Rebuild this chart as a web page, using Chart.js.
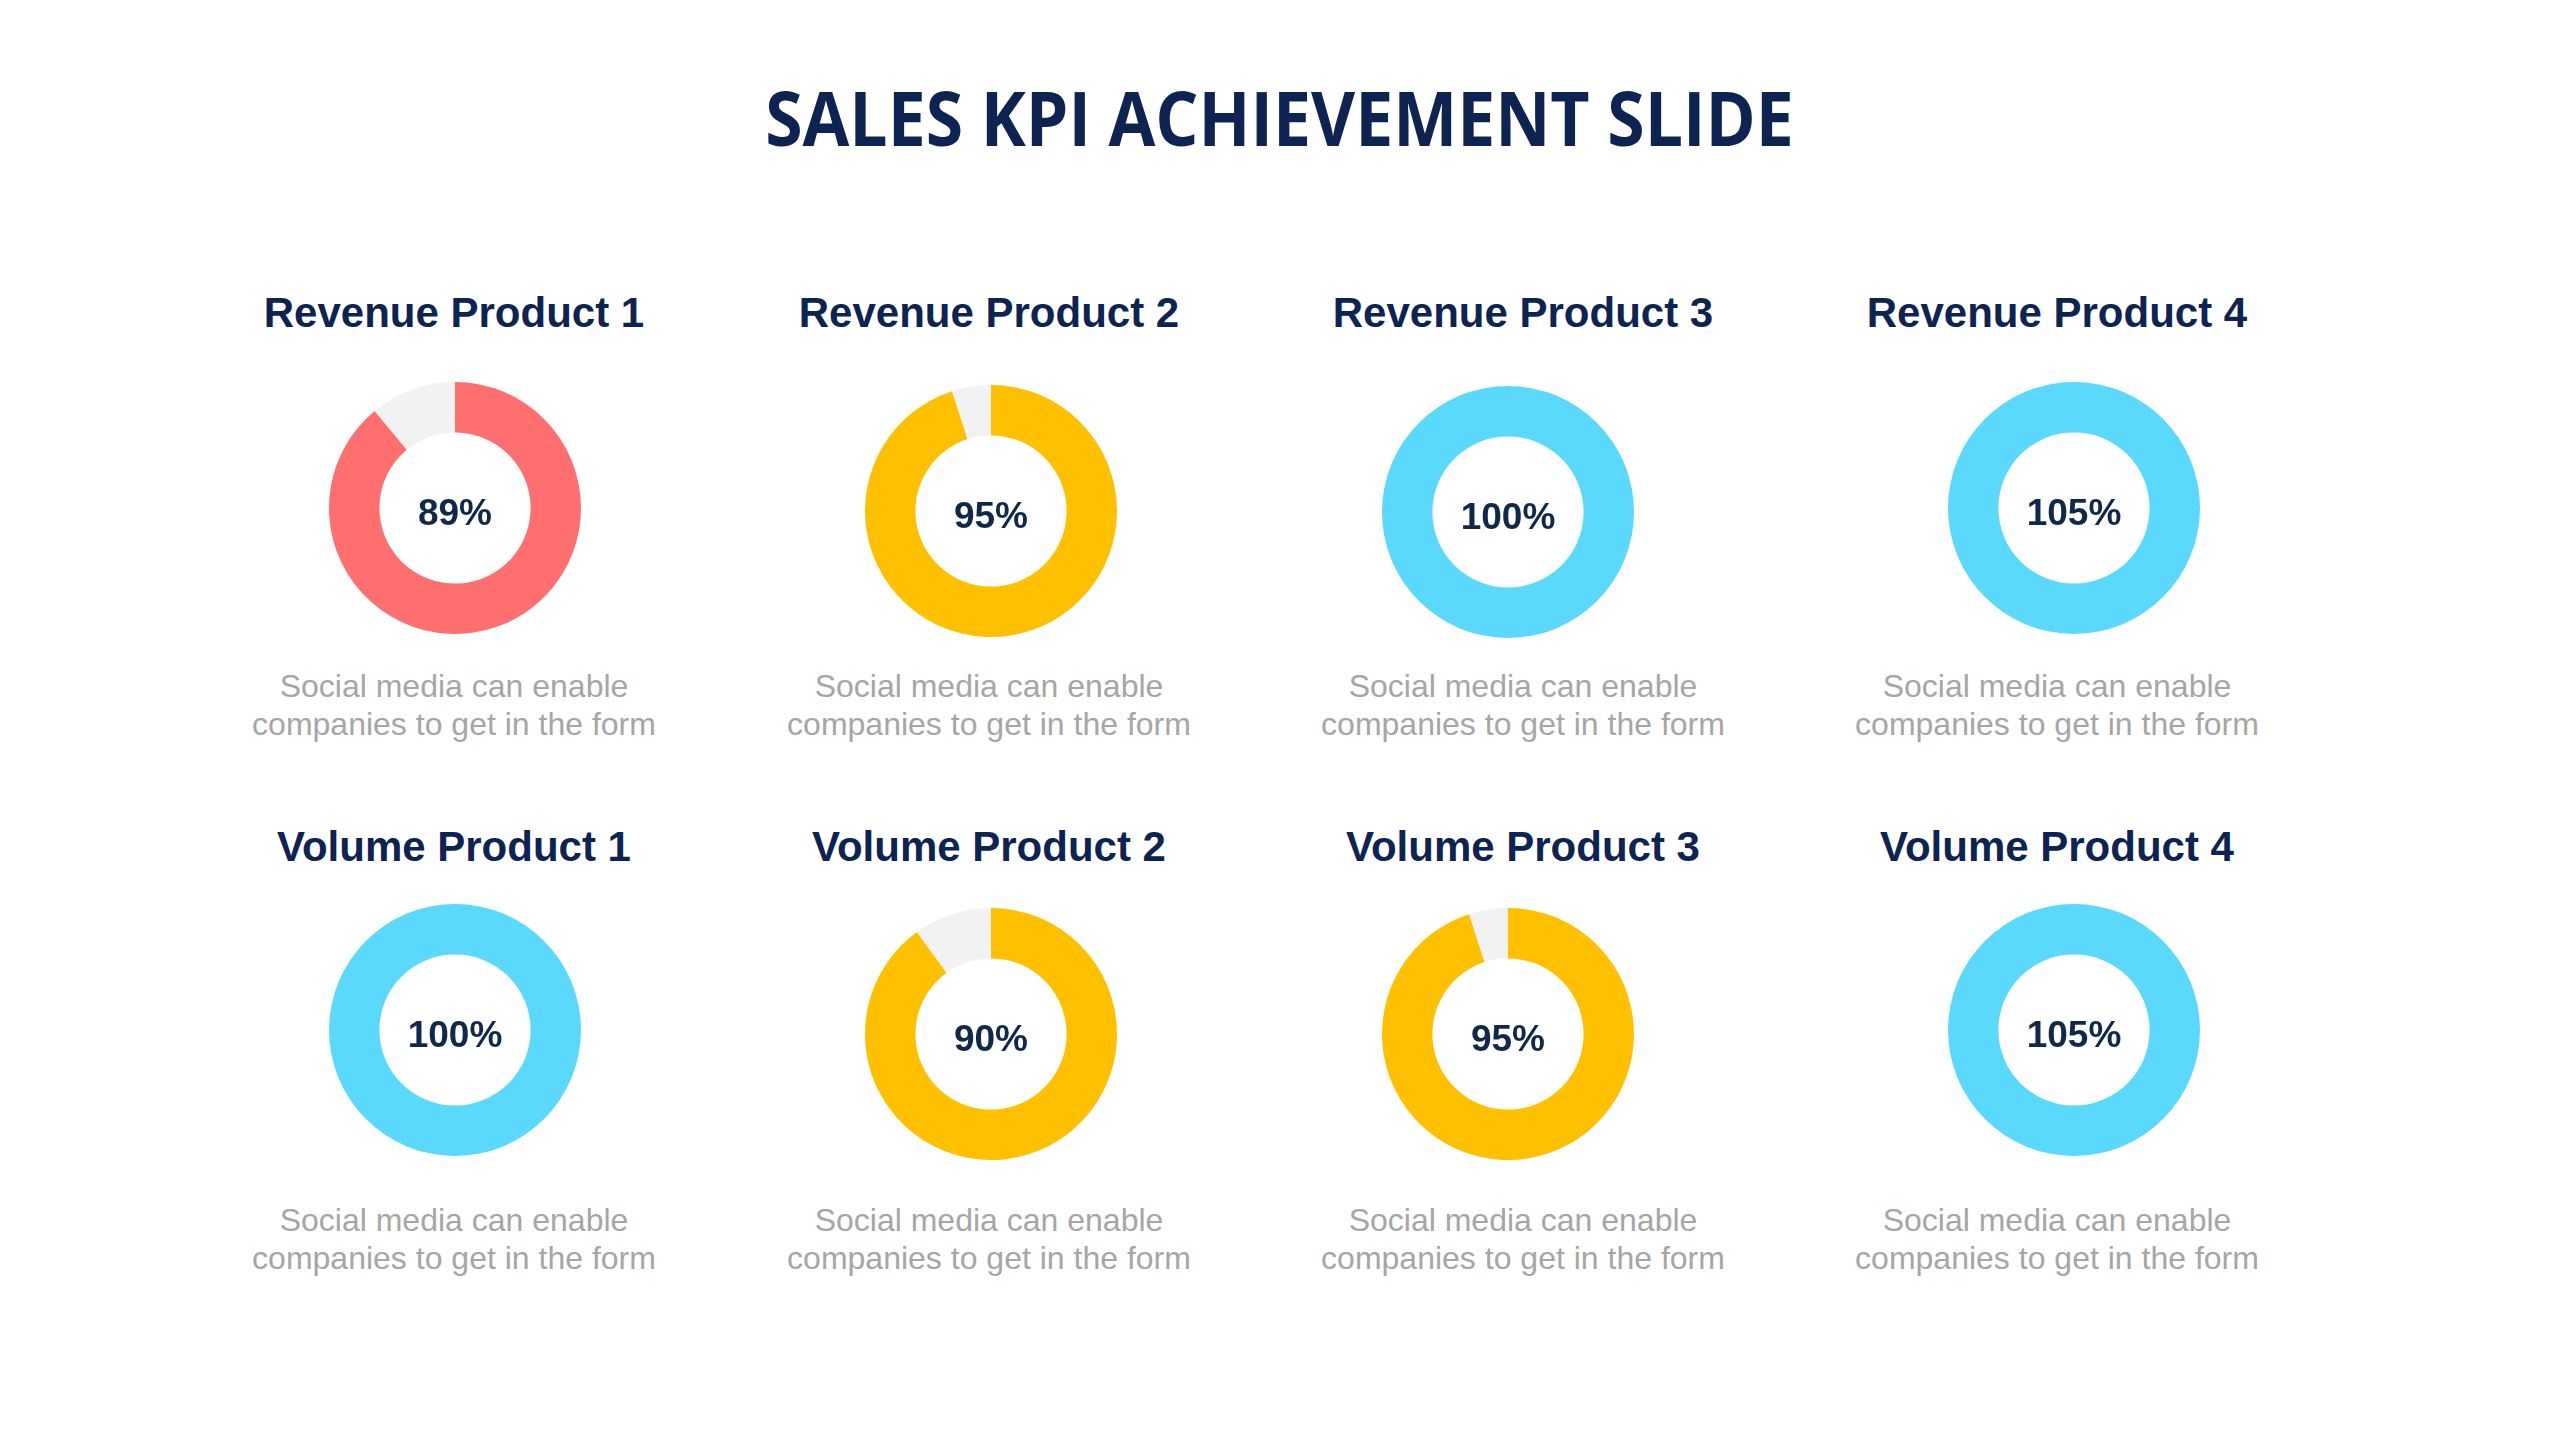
<!DOCTYPE html>
<html>
<head>
<meta charset="utf-8">
<script src="https://cdn.jsdelivr.net/npm/chart.js@4.4.0/dist/chart.umd.min.js"></script>
<style>
  html,body{margin:0;padding:0;background:#fff}
  #slide{position:relative;width:2559px;height:1440px;overflow:hidden;background:#fff}
  .t{position:absolute;white-space:nowrap;text-align:center;line-height:1}
  .title{font-family:'Open Sans',sans-serif;font-weight:700;font-size:75px;color:#0D2352;left:0;width:2559px;transform:scaleX(0.905);transform-origin:1279px 0}
  .head{font-family:'Liberation Sans',Arial,sans-serif;font-weight:700;font-size:42px;color:#0D2352;width:500px}
  .pct{font-family:'Liberation Sans',Arial,sans-serif;font-weight:700;font-size:37px;color:#10294A;width:200px}
  .desc{font-family:'Liberation Sans',Arial,sans-serif;font-size:32px;color:#A6A6A6;width:500px;line-height:38px}
  canvas{position:absolute}
</style>
</head>
<body>
<div id="slide"></div>
<script>
// ── Data ─────────────────────────────────────────────────────
const titleText = 'SALES KPI ACHIEVEMENT SLIDE';
const labels = ['Revenue Product 1','Revenue Product 2','Revenue Product 3','Revenue Product 4',
                'Volume Product 1','Volume Product 2','Volume Product 3','Volume Product 4'];
const achieved = [89, 95, 100, 105, 100, 90, 95, 105];
const ringColors = ['#FF6F6F','#FFC000','#5BD9FC','#5BD9FC','#5BD9FC','#FFC000','#FFC000','#5BD9FC'];
const restColor = '#F2F2F2';
const descLines = ['Social media can enable', 'companies to get in the form'];

// ── Layout (px, full slide) ──────────────────────────────────
const textCols = [454, 989, 1523, 2057];
const donutCols = [455, 991, 1508, 2074];
const donutRowsY = [[508, 511, 512, 508], [1030, 1034, 1034, 1030]];
const headBase = [328, 862];
const descBase = [697, 1231];
const R = 126;
const slide = document.getElementById('slide');

function addText(cls, text, cx, baseline, fs, w) {
  const d = document.createElement('div');
  d.className = 't ' + cls;
  d.innerHTML = text;
  if (w) { d.style.left = (cx - w / 2) + 'px'; }
  d.style.top = (baseline - fs * 0.8465) + 'px';
  slide.appendChild(d);
  return d;
}

// title
const tt = document.createElement('div');
tt.className = 't title';
tt.textContent = titleText;
tt.style.top = (147 - 75 * 0.888) + 'px';
slide.appendChild(tt);

labels.forEach(function(lbl, i) {
  const row = Math.floor(i / 4), col = i % 4;
  const tx = textCols[col];
  addText('head', lbl, tx, headBase[row], 42, 500);
  const dd = addText('desc', descLines.join('<br>'), tx, descBase[row], 32, 500);
  dd.style.top = (descBase[row] - 32 * 0.8465 - 3) + 'px';

  const cx = donutCols[col], cy = donutRowsY[row][col];
  const cv = document.createElement('canvas');
  cv.width = R * 2; cv.height = R * 2;
  cv.style.left = (cx - R) + 'px';
  cv.style.top = (cy - R) + 'px';
  slide.appendChild(cv);

  const v = achieved[i];
  new Chart(cv, {
    type: 'doughnut',
    data: {
      labels: ['Achieved', 'Remaining'],
      datasets: [{
        data: [Math.min(v, 100), Math.max(0, 100 - v)],
        backgroundColor: [ringColors[i], restColor],
        borderWidth: 0
      }]
    },
    options: {
      responsive: false,
      animation: false,
      cutout: '60%',
      plugins: { legend: { display: false }, tooltip: { enabled: false } }
    }
  });

  addText('pct', v + '%', cx, cy + 17, 37, 200);
});
</script>
</body>
</html>
